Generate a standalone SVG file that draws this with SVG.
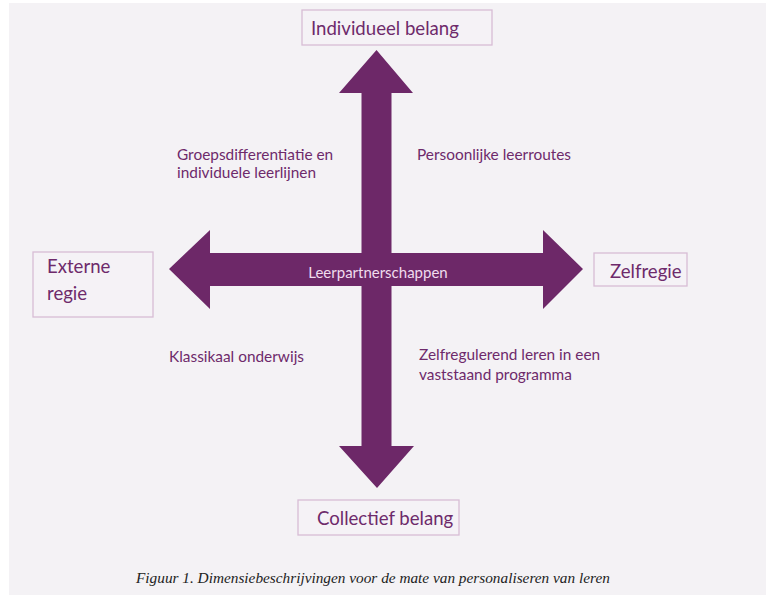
<svg xmlns="http://www.w3.org/2000/svg" width="766" height="595" viewBox="0 0 766 595">
<style>
.bg{fill:#f4f2f5}
.box{fill:#f5f2f6;stroke:#d8bcd5;stroke-width:1.3}
.lbl{font-family:Lato,"Open Sans",sans-serif;fill:#6e2a6b}
.big{font-size:18.6px}
.q{font-size:15.4px}
.arrow{fill:#6d2868}
.cap{font-family:"Liberation Serif",serif;font-style:italic;font-size:15.3px;fill:#222}
</style>
<rect x="0" y="0" width="766" height="595" fill="#fff"/>
<rect class="bg" x="9" y="3" width="757" height="592"/>
<g id="connectors">
<polygon class="arrow" points="376.5,50 413,93 391.5,93 391.5,253 543,253 543,230 583,269 543,309 543,286 391.5,286 391.5,446 414,446 377,488 339,446 361.5,446 361.5,286 210,286 210,309 169,269 210,230 210,253 361.5,253 361.5,93 339,93"/>
<text class="lbl" x="378" y="278" font-size="15" style="fill:#f0dcee" text-anchor="middle">Leerpartnerschappen</text>
</g>
<g id="node-individueel">
<rect class="box" x="302" y="10" width="190" height="35"/>
<text class="lbl big" x="311" y="35">Individueel belang</text>
</g>
<g id="node-externe">
<rect class="box" x="33" y="252" width="120" height="65"/>
<text class="lbl big" x="47" y="273">Externe</text>
<text class="lbl big" x="47" y="300">regie</text>
</g>
<g id="node-zelfregie">
<rect class="box" x="594" y="253" width="93" height="33"/>
<text class="lbl big" x="610" y="278">Zelfregie</text>
</g>
<g id="node-collectief">
<rect class="box" x="298" y="500" width="161" height="35"/>
<text class="lbl big" x="317" y="525">Collectief belang</text>
</g>
<g id="quadrant-labels">
<text class="lbl q" x="177" y="160">Groepsdifferentiatie en</text>
<text class="lbl q" x="177" y="178">individuele leerlijnen</text>
<text class="lbl q" x="417" y="160">Persoonlijke leerroutes</text>
<text class="lbl q" x="169" y="362">Klassikaal onderwijs</text>
<text class="lbl q" x="419" y="360">Zelfregulerend leren in een</text>
<text class="lbl q" x="419" y="380">vaststaand programma</text>
</g>
<text class="cap" x="136" y="583">Figuur 1. Dimensiebeschrijvingen voor de mate van personaliseren van leren</text>
</svg>
